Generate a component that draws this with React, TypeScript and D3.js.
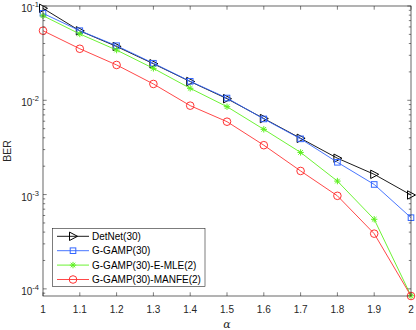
import React from "react";
import * as d3 from "d3";

const alpha = [1, 1.1, 1.2, 1.3, 1.4, 1.5, 1.6, 1.7, 1.8, 1.9, 2];
const detnet = [0.0945, 0.0545, 0.0372, 0.0244, 0.0158, 0.0104, 0.0064, 0.00395, 0.00243, 0.00164, 0.00099];
const ggamp = [0.0836, 0.0547, 0.0379, 0.0247, 0.0159, 0.01056, 0.00634, 0.0039, 0.0022, 0.00128, 0.000569];
const emle = [0.0789, 0.0505, 0.0341, 0.0218, 0.0134, 0.00855, 0.00492, 0.0028, 0.00139, 0.000547, 0.0000845];
const manfe = [0.0547, 0.0352, 0.0237, 0.0149, 0.00877, 0.00593, 0.00334, 0.00178, 0.00097, 0.000385, 0.000084];
const seriesNames = ["DetNet(30)", "G-GAMP(30)", "G-GAMP(30)-E-MLE(2)", "G-GAMP(30)-MANFE(2)"];
const xTicks = [1, 1.1, 1.2, 1.3, 1.4, 1.5, 1.6, 1.7, 1.8, 1.9, 2];
const yDecades = [-1, -2, -3, -4];

const colors = ["#000000", "#3366ff", "#5cf01e", "#ff3333"];
const markers = ["tri", "square", "star", "circle"];
const allSeries = [detnet, ggamp, emle, manfe];

const L = 43, R = 411, T = 6, B = 296;
const axisColor = "#262626";
const font = "'Liberation Sans', Arial, sans-serif";

function Marker({ type, x, y, color }: { type: string; x: number; y: number; color: string }) {
  if (type === "tri") {
    return <path d={`M${x - 3.5},${y - 4.2}L${x + 4.5},${y}L${x - 3.5},${y + 4.2}Z`} fill="none" stroke={color} strokeWidth={1} />;
  }
  if (type === "square") {
    return <rect x={x - 2.8} y={y - 2.8} width={5.6} height={5.6} fill="none" stroke={color} strokeWidth={1} />;
  }
  if (type === "circle") {
    return <circle cx={x} cy={y} r={3.8} fill="none" stroke={color} strokeWidth={1} />;
  }
  const s = 3.2, d = 2.3;
  return (
    <path
      d={`M${x - s},${y}L${x + s},${y}M${x},${y - s}L${x},${y + s}M${x - d},${y - d}L${x + d},${y + d}M${x - d},${y + d}L${x + d},${y - d}`}
      stroke={color}
      strokeWidth={1}
      fill="none"
    />
  );
}

export default function App() {
  const x = d3.scaleLinear().domain([1, 2]).range([L, R]);
  const y = d3.scaleLog().domain([8.4e-5, 0.1]).range([B, T]);
  const line = d3
    .line<number>()
    .x((_, i) => x(alpha[i]))
    .y((v) => y(v));

  const minorTicks: number[] = [];
  for (const dec of [-5, -4, -3, -2]) {
    for (let k = 2; k <= 9; k++) {
      const v = k * Math.pow(10, dec);
      if (v >= 8.4e-5 && v <= 0.1) minorTicks.push(v);
    }
  }

  const legendY = [236.3, 250.7, 265.1, 279.5];

  return (
    <svg width={416} height={330} style={{ position: "absolute", left: 0, top: 0, background: "#fff" }} fontFamily={font}>
      <rect x={0} y={0} width={416} height={330} fill="#fff" />
      {/* ticks */}
      <g stroke={axisColor} strokeWidth={0.6}>
        {xTicks.map((t) => (
          <g key={"xt" + t}>
            <line x1={x(t)} x2={x(t)} y1={B} y2={B - 3.7} />
            <line x1={x(t)} x2={x(t)} y1={T} y2={T + 3.7} />
          </g>
        ))}
        {yDecades.map((e) => {
          const yy = y(Math.pow(10, e));
          return (
            <g key={"yt" + e}>
              <line x1={L} x2={L + 3.7} y1={yy} y2={yy} />
              <line x1={R} x2={R - 3.7} y1={yy} y2={yy} />
            </g>
          );
        })}
        {minorTicks.map((v, i) => (
          <g key={"ym" + i}>
            <line x1={L} x2={L + 2.2} y1={y(v)} y2={y(v)} />
            <line x1={R} x2={R - 2.2} y1={y(v)} y2={y(v)} />
          </g>
        ))}
      </g>
      {/* series */}
      {allSeries.map((s, si) => (
        <g key={"s" + si}>
          <path d={line(s) || ""} fill="none" stroke={colors[si]} strokeWidth={0.9} />
          {s.map((v, i) => (
            <Marker key={i} type={markers[si]} x={x(alpha[i])} y={y(v)} color={colors[si]} />
          ))}
        </g>
      ))}
      {/* box */}
      <rect x={L} y={T} width={R - L} height={B - T} fill="none" stroke={axisColor} strokeWidth={0.7} />
      {/* x tick labels */}
      {xTicks.map((t) => (
        <text key={"xl" + t} x={x(t)} y={312.6} textAnchor="middle" fontSize={10} fill={axisColor}>
          {d3.format("~g")(t)}
        </text>
      ))}
      {/* y tick labels */}
      {yDecades.map((e) => {
        const yy = y(Math.pow(10, e));
        return (
          <text key={"yl" + e} x={39} y={yy + 6} textAnchor="end" fontSize={10} fill={axisColor}>
            <tspan>10</tspan>
            <tspan dy={-5} fontSize={7.5}>{"-" + Math.abs(e)}</tspan>
          </text>
        );
      })}
      {/* axis labels */}
      <text transform={`translate(11,${(T + B) / 2}) rotate(-90)`} textAnchor="middle" fontSize={10.5} fill={axisColor}>
        BER
      </text>
      <text x={(L + R) / 2} y={327.5} textAnchor="middle" fontSize={11} fontStyle="italic" fill={axisColor} fontFamily="'DejaVu Serif', serif">
        α
      </text>
      {/* legend */}
      <rect x={52.5} y={228.5} width={152.5} height={58} fill="#fff" stroke={axisColor} strokeWidth={0.6} />
      {seriesNames.map((n, i) => (
        <g key={"lg" + i}>
          <line x1={57} x2={89} y1={legendY[i]} y2={legendY[i]} stroke={colors[i]} strokeWidth={0.9} />
          <Marker type={markers[i]} x={73} y={legendY[i]} color={colors[i]} />
          <text x={92} y={legendY[i] + 3.6} fontSize={10} fill="#000">
            {n}
          </text>
        </g>
      ))}
    </svg>
  );
}
